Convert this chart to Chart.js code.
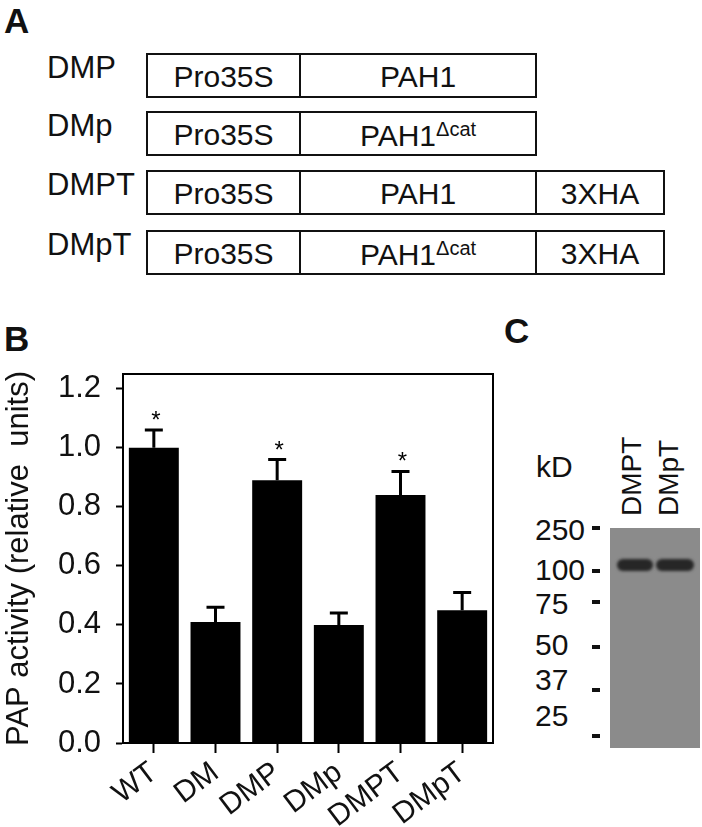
<!DOCTYPE html>
<html>
<head>
<meta charset="utf-8">
<script src="https://cdn.jsdelivr.net/npm/chart.js@4.4.1/dist/chart.umd.min.js"></script>
<style>
    html, body { margin: 0; padding: 0; background: #fff; }
    body {
        width: 702px; height: 827px; position: relative; overflow: hidden;
        font-family: "Liberation Sans", Arial, sans-serif; color: #111;
    }
    .t { position: absolute; white-space: nowrap; line-height: 1; }
    .panel { font-weight: bold; font-size: 35px; }
    .construct {
        position: absolute; left: 146px; height: 45px; display: flex;
        border: 2px solid #111; box-sizing: border-box;
    }
    .construct .cell {
        display: flex; align-items: center; justify-content: center;
        font-size: 30px; line-height: 1; padding-top: 3px; box-sizing: border-box;
    }
    .construct .cell + .cell { border-left: 2px solid #111; }
    .construct sup { font-size: 20px; vertical-align: 10px; line-height: 1; }
    .rowLabel { font-size: 31px; }
    .kd { font-size: 30px; }
    .dash { position: absolute; left: 592px; width: 8px; height: 4px; background: #111; }
    .lane { font-size: 28px; transform: rotate(-90deg); transform-origin: left top; }
    #blot { position: absolute; left: 610px; top: 528px; width: 90px; height: 220px; background: #8b8b8b; }
    .band { position: absolute; top: 31px; height: 12px; background: #262626; border-radius: 6px; filter: blur(1.8px); }
    #chartBox { position: absolute; left: 0; top: 300px; width: 500px; height: 527px; }
</style>
</head>
<body>
<div class="t panel" style="left:4px; top:3px;">A</div>
<div class="t panel" style="left:4px; top:321px;">B</div>
<div class="t panel" style="left:504px; top:313px;">C</div>
<div id="constructs"></div>

<div id="chartBox"><canvas id="papChart" width="500" height="527"></canvas></div>

<div id="western"></div>

<script>
// construct diagrams (panel A)
const constructNames = ['DMP', 'DMp', 'DMPT', 'DMpT'];
const promoterLabels = ['Pro35S', 'Pro35S', 'Pro35S', 'Pro35S'];
const geneLabels = ['PAH1', 'PAH1', 'PAH1', 'PAH1'];
const geneSuperscripts = ['', '\u0394cat', '', '\u0394cat'];
const tagLabels = ['', '', '3XHA', '3XHA'];

// PAP activity (panel B)
const categories = ['WT', 'DM', 'DMP', 'DMp', 'DMPT', 'DMpT'];
const activity = [1.00, 0.41, 0.89, 0.40, 0.84, 0.45];
const activityErr = [0.06, 0.05, 0.07, 0.04, 0.08, 0.06];
const significance = ['*', '', '*', '', '*', ''];
const yTicks = [0, 0.2, 0.4, 0.6, 0.8, 1.0, 1.2];

// immunoblot (panel C)
const laneLabels = ['DMPT', 'DMpT'];
const markerLabels = ['250', '100', '75', '50', '37', '25'];

const rowTops = [53, 111, 170, 230];
const markerTops = [515, 555, 589, 630, 665, 701];
const dashTops = [526, 569, 600, 645, 688, 734];

// --- panel A ---
const constructsEl = document.getElementById('constructs');
constructNames.forEach((name, i) => {
    const label = document.createElement('div');
    label.className = 't rowLabel';
    label.style.left = '47px';
    label.style.top = (rowTops[i] - 1) + 'px';
    label.textContent = name;
    constructsEl.appendChild(label);

    const box = document.createElement('div');
    box.className = 'construct';
    box.style.top = rowTops[i] + 'px';
    box.style.width = tagLabels[i] ? '519px' : '391px';

    const pro = document.createElement('div');
    pro.className = 'cell';
    pro.style.width = '151px';
    pro.textContent = promoterLabels[i];
    box.appendChild(pro);

    const gene = document.createElement('div');
    gene.className = 'cell';
    gene.style.width = '236px';
    gene.innerHTML = '<span>' + geneLabels[i] + (geneSuperscripts[i] ? '<sup>' + geneSuperscripts[i] + '</sup>' : '') + '</span>';
    box.appendChild(gene);

    if (tagLabels[i]) {
        const tag = document.createElement('div');
        tag.className = 'cell';
        tag.style.flex = '1';
        tag.textContent = tagLabels[i];
        box.appendChild(tag);
    }
    constructsEl.appendChild(box);
});

// --- panel C ---
const westernEl = document.getElementById('western');
let blotHtml = '<div class="t kd" style="left:536px; top:452px;">kD</div>';
markerLabels.forEach((m, i) => {
    blotHtml += '<div class="t kd" style="left:535px; top:' + markerTops[i] + 'px;">' + m + '</div>'
        + '<div class="dash" style="top:' + dashTops[i] + 'px;"></div>';
});
const laneLeft = [618, 655];
laneLabels.forEach((l, i) => {
    blotHtml += '<div class="t lane" style="left:' + laneLeft[i] + 'px; top:516px;">' + l + '</div>';
});
blotHtml += '<div id="blot"><div class="band" style="left:7px; width:36px;"></div>'
    + '<div class="band" style="left:46px; width:38px;"></div></div>';
westernEl.innerHTML = blotHtml;

// --- panel B ---
Chart.defaults.font.family = '"Liberation Sans", Arial, sans-serif';
Chart.defaults.color = '#111';

const errorBars = {
    id: 'errorBars',
    afterDatasetsDraw(chart) {
        const {ctx, chartArea, scales: {y}} = chart;
        const meta = chart.getDatasetMeta(0);
        ctx.save();
        ctx.strokeStyle = '#000';
        ctx.lineWidth = 2;
        ctx.strokeRect(chartArea.left, chartArea.top, chartArea.right - chartArea.left, chartArea.bottom - chartArea.top);
        ctx.lineWidth = 3;
        meta.data.forEach((bar, i) => {
            const top = y.getPixelForValue(activity[i] + activityErr[i]);
            ctx.beginPath();
            ctx.moveTo(bar.x, bar.y);
            ctx.lineTo(bar.x, top);
            ctx.moveTo(bar.x - 9, top);
            ctx.lineTo(bar.x + 9, top);
            ctx.stroke();
            if (significance[i]) {
                ctx.fillStyle = '#000';
                ctx.font = '24px "Liberation Sans", Arial, sans-serif';
                ctx.textAlign = 'center';
                ctx.fillText(significance[i], bar.x + 2, top - 2);
            }
        });
        ctx.restore();
    }
};

new Chart(document.getElementById('papChart'), {
    type: 'bar',
    data: {
        labels: categories,
        datasets: [{
            data: activity,
            backgroundColor: '#000',
            borderWidth: 0,
            barPercentage: 0.81,
            categoryPercentage: 1.0
        }]
    },
    options: {
        responsive: false,
        animation: false,
        layout: {padding: {top: 74, right: 7, left: 0, bottom: 0}},
        plugins: {legend: {display: false}, tooltip: {enabled: false}},
        scales: {
            x: {
                grid: {drawOnChartArea: false, drawTicks: true, tickLength: 10, tickWidth: 2, tickColor: '#000', offset: false},
                border: {display: true, color: '#000', width: 2},
                ticks: {font: {size: 30}, minRotation: 37, maxRotation: 37, autoSkip: false, padding: 2, color: '#111'},
                afterFit(scale) { scale.height = 84; }
            },
            y: {
                min: 0,
                max: 1.25,
                grid: {drawOnChartArea: false, drawTicks: true, tickLength: 7, tickWidth: 2, tickColor: '#000'},
                border: {display: true, color: '#000', width: 2},
                ticks: {font: {size: 31}, padding: 15, color: '#111', callback: v => v.toFixed(1)},
                afterBuildTicks(scale) { scale.ticks = yTicks.map(v => ({value: v})); },
                title: {display: true, text: 'PAP activity (relative  units)', font: {size: 31}, color: '#111', padding: {top: 1, bottom: 0}},
                afterFit(scale) { scale.width = 123; }
            }
        }
    },
    plugins: [errorBars]
});
</script>
</body>
</html>
